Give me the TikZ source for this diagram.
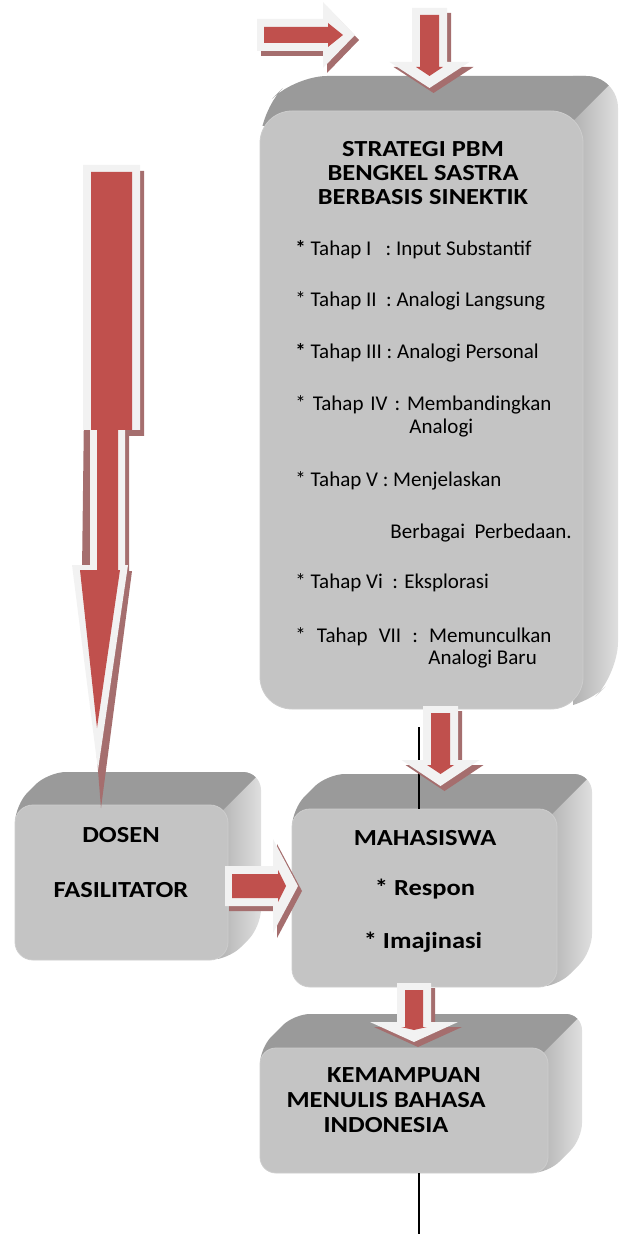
\documentclass[tikz,border=0pt]{standalone}
\usepackage{fontspec}
\setmainfont{Carlito}
\newfontfamily\ttlfont[FakeStretch=1.15]{Carlito}
\usetikzlibrary{positioning}

\definecolor{arrred}{HTML}{C0504D}
\definecolor{arrrim}{HTML}{F2F2F2}
\definecolor{arrshadow}{RGB}{165,110,110}
\definecolor{facegrey}{HTML}{C4C4C4}
\definecolor{facerim}{HTML}{CDCDCD}
\definecolor{topgrey}{HTML}{9A9A9A}
\definecolor{sidedark}{HTML}{B2B2B2}
\definecolor{sidelight}{HTML}{E4E4E4}

% 3D box: name, x0, y0, x1, y1 of the front face (px), depth, corner radius
\newcommand{\bevelbox}[7]{%
  \begin{scope}
    \clip[rounded corners=#7] (#2,#3) -- (#2+#6,#3-#6) -- (#4+#6,#3-#6) -- (#4+#6,#5-#6) -- (#4,#5) -- (#2,#5) -- cycle;
    \shade[left color=sidedark, right color=sidelight] (#4-10,#3-#6-5) rectangle (#4+#6+5,#5+5);
    \fill[topgrey] (#2-20,#3+15) -- (#4-15,#3+15) -- (#4+#6+20,#3-#6-20) -- (#2-20,#3-#6-20) -- cycle;
  \end{scope}
  \node[face, rounded corners=#7, minimum width={(#4-#2)*0.5pt}, minimum height={(#5-#3)*0.5pt}] (#1) at ({(#2+#4)/2},{(#3+#5)/2}) {};}

% block arrow: tail x, tail y, rotation, length, shaft half width, head half width, head length
\newcommand{\blockarrow}[7]{%
  \begin{scope}[shift={(#1+4,#2+5)}, rotate=#3]
    \fill[arrshadow] (-#5,0) -- (#5,0) -- (#5,#4-#7) -- (#6,#4-#7) -- (0,#4) -- (-#6,#4-#7) -- (-#5,#4-#7) -- cycle;
  \end{scope}
  \begin{scope}[shift={(#1,#2)}, rotate=#3]
    \fill[arrrim] (-#5,0) -- (#5,0) -- (#5,#4-#7) -- (#6,#4-#7) -- (0,#4) -- (-#6,#4-#7) -- (-#5,#4-#7) -- cycle;
    \fill[arrred] (-#5+8,7) -- (#5-8,7) -- (#5-8,#4-#7+5) -- (#5-4,#4-#7+5) -- (0,#4-12) -- (-#5+4,#4-#7+5) -- (-#5+8,#4-#7+5) -- cycle;
  \end{scope}}

\begin{document}
\begin{tikzpicture}[x=0.5pt, y=-0.5pt]
 \tikzstyle{face}=[draw=facerim, fill=facegrey, inner sep=0pt, outer sep=0pt]
 \tikzstyle{ttl}=[font=\ttlfont\fontsize{11.5}{12}\selectfont\bfseries, anchor=base, inner sep=0pt]
 \tikzstyle{stage}=[font=\fontsize{10.5}{12}\selectfont, anchor=base west, inner sep=0pt]
 \tikzstyle{link}=[black, thick]
 \useasboundingbox (0,0) rectangle (622,1234);
 %
 \bevelbox{strat}{260}{111}{583}{709}{35}{16pt}
 \bevelbox{dosen}{15}{805}{228}{960}{33}{9pt}
 \bevelbox{maha}{292}{809}{557}{987}{35}{9pt}
 \bevelbox{kemamp}{260}{1048}{548}{1173}{34}{8pt}
 %
 \node[ttl] (s1) at (423,157) {STRATEGI PBM};
 \node[ttl] (s2) at (423,181) {BENGKEL SASTRA};
 \node[ttl] (s3) at (423,205) {BERBASIS SINEKTIK};
 %
 \node[stage] (t1) at (295,256) {\textbf{*} Tahap I~~ : Input Substantif};
 \node[stage] (t2) at (295,307) {* Tahap II~ : Analogi Langsung};
 \node[stage] (t3) at (295,359) {\textbf{*} Tahap III : Analogi Personal};
 \node[stage] (t4) at (295,411) {\hbox to 128pt{*\hfil Tahap\hfil IV\hfil :\hfil Membandingkan}};
 \node[stage] (t4b) at (409,434) {Analogi};
 \node[stage] (t5) at (295,487) {* Tahap V : Menjelaskan};
 \node[stage] (t5b) at (390,538) {Berbagai~ Perbedaan.};
 \node[stage] (t6) at (295,588) {* Tahap Vi~ : Eksplorasi};
 \node[stage] (t7) at (295,642) {\hbox to 128pt{*\hfil Tahap\hfil VII\hfil :\hfil Memunculkan}};
 \node[stage] (t7b) at (428,664) {Analogi Baru};
 %
 \node[ttl] (d1) at (121,842) {DOSEN};
 \node[ttl] (d2) at (121,897) {FASILITATOR};
 %
 \node[ttl] (m1) at (425,845) {MAHASISWA};
 \node[ttl] (m2) at (425,895) {* Respon};
 \node[ttl] (m3) at (423,948) {* Imajinasi};
 %
 \node[ttl] (k1) at (404,1082) {KEMAMPUAN};
 \node[ttl] (k2) at (386,1107) {MENULIS BAHASA};
 \node[ttl] (k3) at (386,1132) {INDONESIA};
 %%
 \coordinate (lnA) at (419,727);
 \coordinate (lnB) at (419,1234);
 \draw[link] (lnA) -- (lnA |- maha.north);
 \draw[link] (lnB |- kemamp.south) -- (lnB);
 %%
 \blockarrow{257}{35}{90}{98}{16}{33}{32}
 \blockarrow{429.5}{8}{0}{80}{17.5}{40}{26}
 \blockarrow{440.5}{706}{0}{80}{17.5}{39}{26}
 \blockarrow{414}{983}{0}{59}{17}{44}{20}
 \blockarrow{225}{886}{90}{73}{20}{47}{25}
 % long arrow from the top down to the lecturer box
 \fill[arrshadow] (87,171) -- (144,171) -- (144,436) -- (129,436) -- (129,571) -- (132,571) -- (101,808) -- (82,571) -- cycle;
 \fill[arrrim] (83,165) -- (140,165) -- (140,430) -- (125,430) -- (125,565) -- (128,565) -- (98,770) -- (72,565) -- (90,565) -- (90,430) -- (83,430) -- cycle;
 \fill[arrred] (91,172) -- (132,172) -- (132,430) -- (118,430) -- (118,570) -- (120,570) -- (97,728) -- (80,570) -- (97,570) -- (97,430) -- (91,430) -- cycle;
\end{tikzpicture}
\end{document}
